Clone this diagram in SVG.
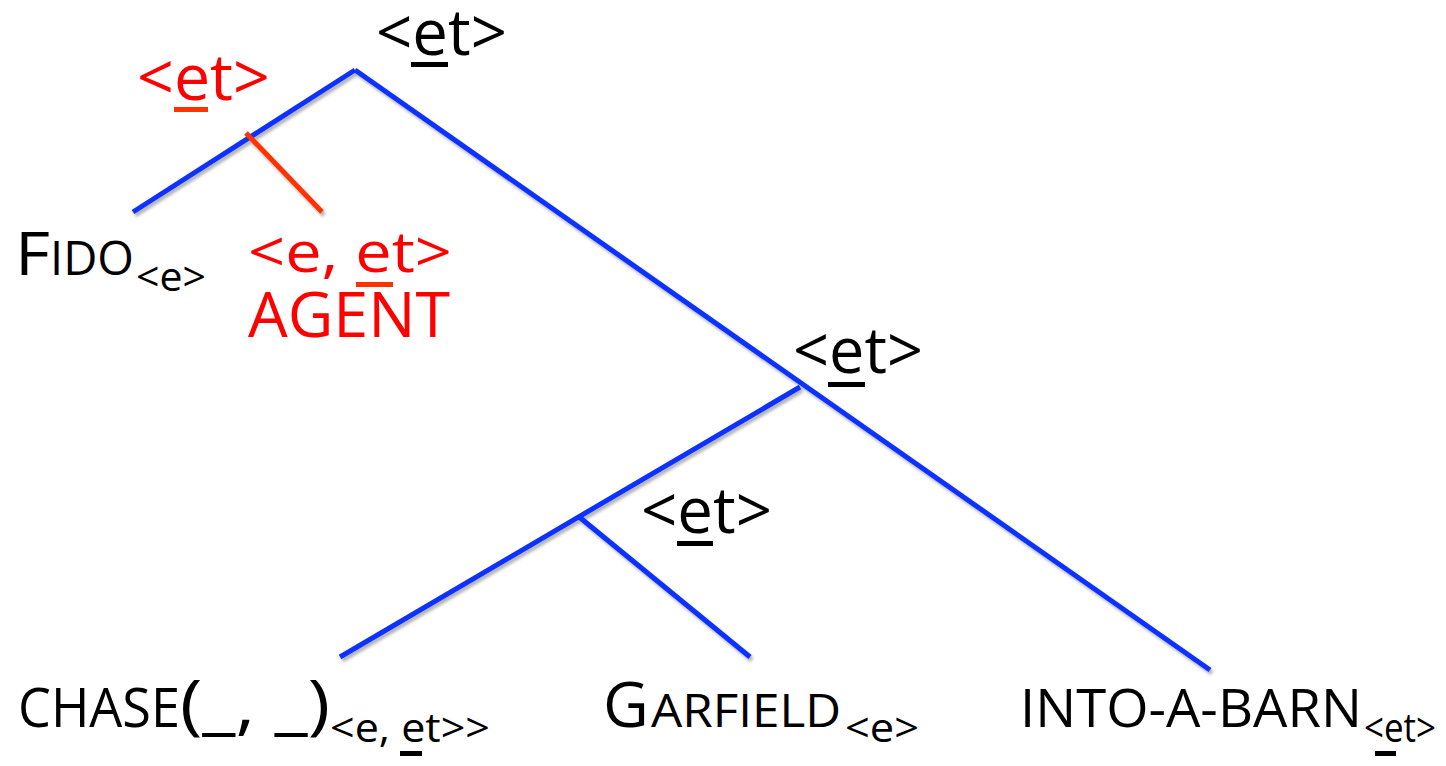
<svg xmlns="http://www.w3.org/2000/svg" width="1446" height="766" viewBox="0 0 1446 766">
<defs>
<filter id="sh" x="-10%" y="-10%" width="120%" height="120%">
<feDropShadow dx="2" dy="3" stdDeviation="1.5" flood-color="#000" flood-opacity="0.3"/>
</filter>
</defs>
<style>
text{font-family:"Open Sans","Liberation Sans",sans-serif;fill:#000}
.red{fill:#ff0000}
.lbl{font-size:64px}
.sub{font-size:41px}
.edge{stroke:#1030ff;stroke-width:5;stroke-linecap:butt;fill:none}
.redge{stroke:#ff3300;stroke-width:5;fill:none}
.ul{fill:#000}
.rul{fill:#ff3300}
</style>
<rect width="1446" height="766" fill="#fff"/>
<g id="connectors" filter="url(#sh)">
<line class="edge" x1="133" y1="212" x2="355" y2="70"/>
<line class="edge" x1="355" y1="70" x2="1210" y2="670"/>
<line class="redge" x1="246" y1="133" x2="322" y2="212"/>
<line class="edge" x1="800" y1="387" x2="340" y2="657"/>
<line class="edge" x1="578" y1="516" x2="750" y2="657"/>
</g>
<g id="root">
<text class="lbl" x="376" y="55" textLength="131" lengthAdjust="spacingAndGlyphs">&lt;et&gt;</text>
<rect class="ul" x="411" y="62" width="37" height="5"/>
</g>
<g id="agent-node">
<text class="lbl red" x="137" y="100" textLength="133" lengthAdjust="spacingAndGlyphs">&lt;et&gt;</text>
<rect class="rul" x="174" y="107" width="34" height="5"/>
</g>
<g id="fido">
<text x="15" y="275" font-size="60" textLength="35" lengthAdjust="spacingAndGlyphs">F</text>
<text x="50" y="275" font-size="47" textLength="84" lengthAdjust="spacingAndGlyphs">IDO</text>
<text class="sub" x="136" y="291" textLength="70" lengthAdjust="spacingAndGlyphs">&lt;e&gt;</text>
</g>
<g id="agent">
<text class="red" x="248" y="272" font-size="56" textLength="204" lengthAdjust="spacingAndGlyphs">&lt;e, et&gt;</text>
<rect class="rul" x="356" y="282" width="37" height="5"/>
<text class="red" x="248" y="337" font-size="62" textLength="202" lengthAdjust="spacingAndGlyphs">AGENT</text>
</g>
<g id="vp">
<text class="lbl" x="793" y="373" textLength="130" lengthAdjust="spacingAndGlyphs">&lt;et&gt;</text>
<rect class="ul" x="828" y="382" width="37" height="5"/>
</g>
<g id="vbar">
<text class="lbl" x="641" y="533" textLength="131" lengthAdjust="spacingAndGlyphs">&lt;et&gt;</text>
<rect class="ul" x="677" y="541" width="36" height="5"/>
</g>
<g id="chase">
<text x="18" y="727" font-size="54" textLength="162" lengthAdjust="spacingAndGlyphs">CHASE</text>
<text x="180" y="727" font-size="66" textLength="150" lengthAdjust="spacingAndGlyphs">(_, _)</text>
<text class="sub" x="330" y="742" textLength="160" lengthAdjust="spacingAndGlyphs">&lt;e, et&gt;&gt;</text>
<rect class="ul" x="400" y="751" width="22" height="5"/>
</g>
<g id="garfield">
<text x="603" y="727" font-size="63">G</text>
<text x="651" y="727" font-size="45" textLength="190" lengthAdjust="spacingAndGlyphs">ARFIELD</text>
<text class="sub" x="845" y="742" textLength="74" lengthAdjust="spacingAndGlyphs">&lt;e&gt;</text>
</g>
<g id="into-a-barn">
<text x="1020" y="727" font-size="53" textLength="342" lengthAdjust="spacingAndGlyphs">INTO-A-BARN</text>
<text class="sub" x="1364" y="742" textLength="72" lengthAdjust="spacingAndGlyphs">&lt;et&gt;</text>
<rect class="ul" x="1375" y="751" width="21" height="5"/>
</g>
</svg>
